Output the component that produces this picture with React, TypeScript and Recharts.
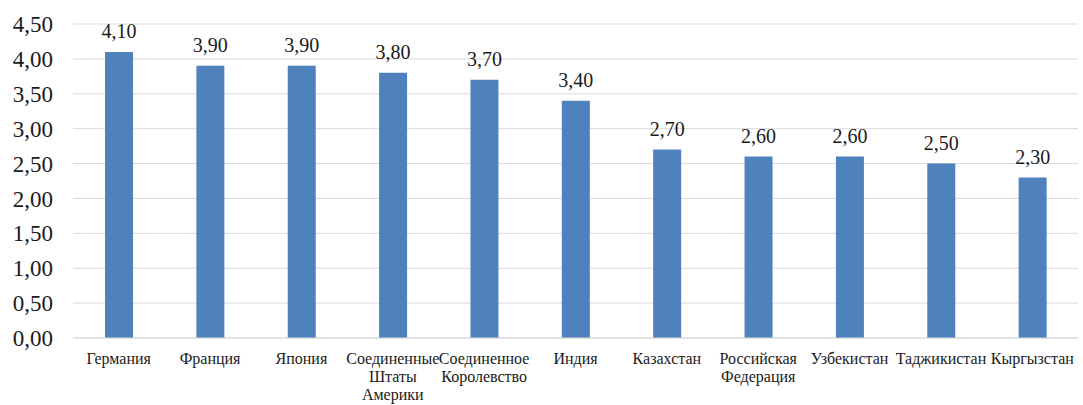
import React from "react";
import { BarChart, Bar, XAxis, YAxis, CartesianGrid, LabelList } from "recharts";

const categories = [
  "Германия",
  "Франция",
  "Япония",
  "Соединенные Штаты Америки",
  "Соединенное Королевство",
  "Индия",
  "Казахстан",
  "Российская Федерация",
  "Узбекистан",
  "Таджикистан",
  "Кыргызстан",
];
const values = [4.1, 3.9, 3.9, 3.8, 3.7, 3.4, 2.7, 2.6, 2.6, 2.5, 2.3];
const yTicks = [0, 0.5, 1, 1.5, 2, 2.5, 3, 3.5, 4, 4.5];

const data = categories.map((name, i) => ({ name, value: values[i] }));

const FONT = "Liberation Serif";
const TEXT = "#1a1a1a";
const fmt = (v: number) => v.toFixed(2).replace(".", ",");

const XTick = (props: any) => {
  const { x, y, payload } = props;
  const lines = String(payload.value).split(" ");
  return (
    <text x={x} y={y} textAnchor="middle" fontSize={16} style={{ fontFamily: FONT }} fill={TEXT}>
      {lines.map((l, i) => (
        <tspan key={i} x={x} dy={i === 0 ? 26 : 18}>
          {l}
        </tspan>
      ))}
    </text>
  );
};

export default function App() {
  return (
    <div style={{ position: "absolute", left: 0, top: 0, width: 1083, height: 405, background: "#fff", fontFamily: FONT }}>
      <BarChart
        width={1083}
        height={405}
        data={data}
        margin={{ top: 24, right: 5, left: 0, bottom: 0 }}
        style={{ fontFamily: FONT }}
      >
        <CartesianGrid vertical={false} stroke="#D9D9D9" />
        <XAxis
          dataKey="name"
          height={67}
          interval={0}
          tickLine={false}
          tickSize={0}
          tickMargin={0}
          axisLine={{ stroke: "#D9D9D9" }}
          tick={<XTick />}
        />
        <YAxis
          width={73}
          domain={[0, 4.5]}
          ticks={yTicks}
          tickFormatter={fmt}
          axisLine={false}
          tickLine={false}
          tickSize={0}
          tickMargin={20}
          tick={{ fontSize: 23, fill: TEXT, style: { fontFamily: FONT } }}
        />
        <Bar dataKey="value" fill="#4F81BD" barSize={28} isAnimationActive={false}>
          <LabelList
            dataKey="value"
            position="top"
            offset={14}
            formatter={(v: any) => fmt(Number(v))}
            fontSize={20}
            fill={TEXT}
            style={{ fontFamily: FONT }}
          />
        </Bar>
      </BarChart>
    </div>
  );
}
